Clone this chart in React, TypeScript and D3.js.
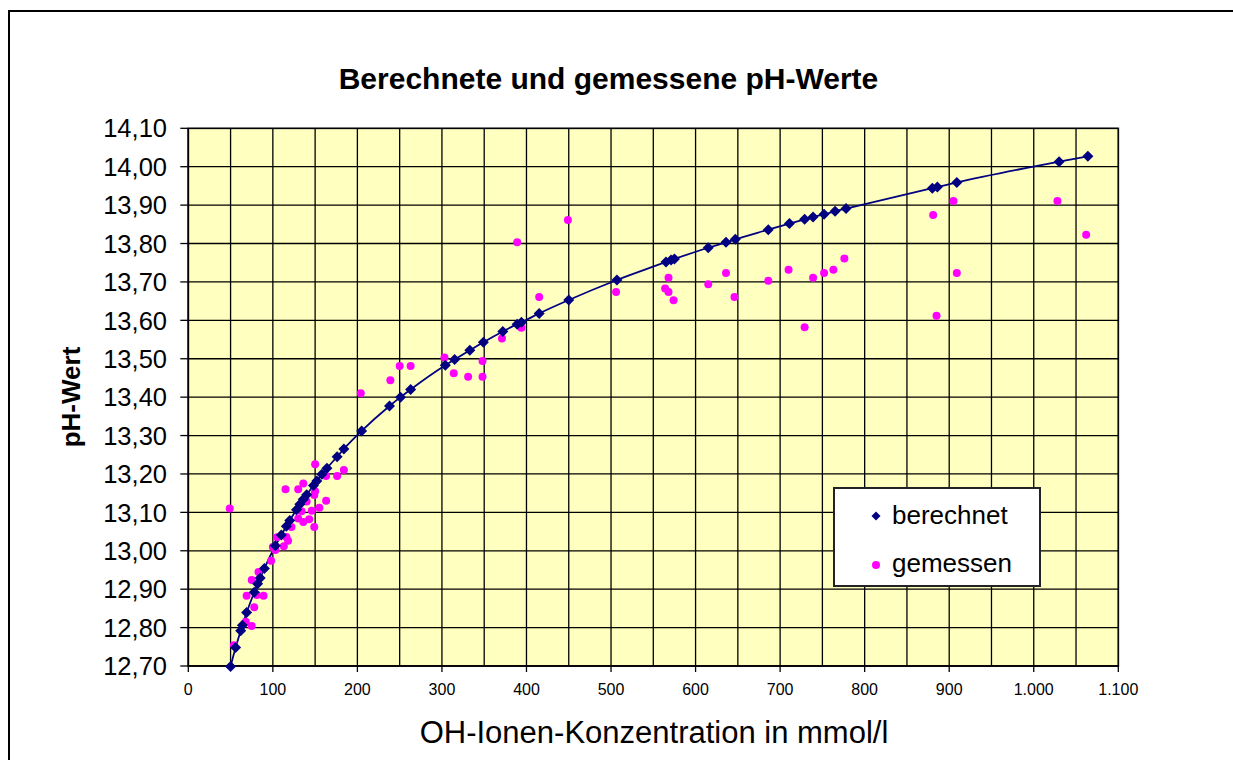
import React from "react";
import * as d3 from "d3";

// OH- concentration (mmol/l) and pH, calculated series
const calcConc = [50, 56, 62, 64, 69, 78, 82, 85, 90, 103, 110, 116, 120, 128, 132, 136, 140, 148, 152, 158, 164, 176, 184, 205, 238, 251, 263, 304, 315, 333, 349, 372, 389, 394, 415, 450, 507, 565, 571, 575, 615, 636, 647, 686, 711, 729, 739, 752, 765, 778, 880, 886, 909, 1030, 1064];
const calcPH = [12.699, 12.748, 12.792, 12.806, 12.839, 12.892, 12.914, 12.929, 12.954, 13.013, 13.041, 13.064, 13.079, 13.107, 13.121, 13.134, 13.146, 13.170, 13.182, 13.199, 13.215, 13.245, 13.265, 13.312, 13.377, 13.400, 13.420, 13.483, 13.498, 13.522, 13.543, 13.571, 13.590, 13.595, 13.618, 13.653, 13.705, 13.752, 13.757, 13.760, 13.789, 13.803, 13.811, 13.836, 13.852, 13.863, 13.869, 13.876, 13.884, 13.891, 13.944, 13.947, 13.959, 14.013, 14.027];

// measured series
const measConc = [49, 150, 184, 176, 163, 136, 115, 130, 150, 149, 163, 140, 155, 134, 146, 130, 136, 143, 149, 122, 105, 116, 118, 113, 100, 103, 98, 83, 75, 81, 89, 69, 78, 68, 75, 54,
  204, 239, 250, 263, 303, 314, 331, 348, 348, 371, 389, 394, 415, 449, 506,
  568, 564, 568, 574, 615, 636, 646, 686, 710, 729, 739, 752, 763, 776,
  905, 881, 1062, 1028, 909, 885];
const measPH = [13.11, 13.225, 13.21, 13.195, 13.195, 13.175, 13.16, 13.16, 13.155, 13.145, 13.13, 13.128, 13.112, 13.103, 13.104, 13.084, 13.075, 13.082, 13.062, 13.062, 13.035, 13.036, 13.026, 13.012, 13.01, 13.002, 12.974, 12.945, 12.924, 12.885, 12.883, 12.883, 12.853, 12.815, 12.804, 12.754,
  13.41, 13.444, 13.481, 13.481, 13.503, 13.462, 13.453, 13.494, 13.453, 13.553, 13.803, 13.581, 13.661, 13.861, 13.674,
  13.711, 13.683, 13.674, 13.652, 13.694, 13.723, 13.661, 13.703, 13.732, 13.582, 13.711, 13.723, 13.732, 13.761,
  13.911, 13.874, 13.823, 13.911, 13.723, 13.612];

const xTicks = [0, 100, 200, 300, 400, 500, 600, 700, 800, 900, 1000, 1100];
const xTickLabels = ["0", "100", "200", "300", "400", "500", "600", "700", "800", "900", "1.000", "1.100"];
const yTicks = [12.7, 12.8, 12.9, 13.0, 13.1, 13.2, 13.3, 13.4, 13.5, 13.6, 13.7, 13.8, 13.9, 14.0, 14.1];
const xGrid = d3.range(0, 1101, 50);

const title = "Berechnete und gemessene pH-Werte";
const xTitle = "OH-Ionen-Konzentration in mmol/l";
const yTitle = "pH-Wert";
const seriesNames = ["berechnet", "gemessen"];

const W = 1233, H = 760;
const L = 188.3, R = 1118.3, T = 128.3, B = 666;
const FONT = "'Liberation Sans', Arial, sans-serif";

export default function App() {
  const x = d3.scaleLinear().domain([0, 1100]).range([L, R]);
  const y = d3.scaleLinear().domain([12.7, 14.1]).range([B, T]);
  const calc = calcConc.map((c, i) => [c, calcPH[i]] as [number, number]);
  const meas = measConc.map((c, i) => [c, measPH[i]] as [number, number]);
  const line = d3.line<[number, number]>().x(d => x(d[0])).y(d => y(d[1])).curve(d3.curveMonotoneX);
  const diamond = (cx: number, cy: number, r: number) => `M${cx},${cy - r}L${cx + r},${cy}L${cx},${cy + r}L${cx - r},${cy}Z`;

  return (
    <svg width={W} height={H} style={{ position: "absolute", left: 0, top: 0, display: "block", background: "#fff" }} fontFamily={FONT}>
      {/* outer frame */}
      <path d={`M9,${H + 5}V11H${W + 5}`} fill="none" stroke="#000" strokeWidth={2} />
      <text x={608.5} y={89} textAnchor="middle" fontSize={30} fontWeight="bold">{title}</text>
      {/* plot area */}
      <rect x={L} y={T} width={R - L} height={B - T} fill="#FFFFC0" stroke="#808080" strokeWidth={2} />
      {xGrid.map(v => (
        <line key={"gx" + v} x1={x(v)} x2={x(v)} y1={T} y2={B} stroke="#000" strokeWidth={1.3} />
      ))}
      {yTicks.map(v => (
        <line key={"gy" + v} x1={L} x2={R} y1={y(v)} y2={y(v)} stroke="#000" strokeWidth={1.3} />
      ))}
      {/* axes */}
      <line x1={L} x2={L} y1={T} y2={B} stroke="#000" strokeWidth={1.5} />
      <line x1={L} x2={R} y1={B} y2={B} stroke="#000" strokeWidth={1.5} />
      {yTicks.map(v => (
        <g key={"yt" + v}>
          <line x1={L - 8} x2={L} y1={y(v)} y2={y(v)} stroke="#000" strokeWidth={1.3} />
          <text x={167} y={y(v)} dy="0.36em" textAnchor="end" fontSize={25.5}>{v.toFixed(2).replace(".", ",")}</text>
        </g>
      ))}
      {xTicks.map((v, i) => (
        <g key={"xt" + v}>
          <line x1={x(v)} x2={x(v)} y1={B} y2={B + 6} stroke="#000" strokeWidth={1.3} />
          <text x={x(v)} y={695} textAnchor="middle" fontSize={16}>{xTickLabels[i]}</text>
        </g>
      ))}
      <text x={654} y={743} textAnchor="middle" fontSize={31}>{xTitle}</text>
      <text transform={`translate(80,397) rotate(-90)`} textAnchor="middle" fontSize={26} fontWeight="bold">{yTitle}</text>
      {/* series */}
      <path d={line(calc) || ""} fill="none" stroke="#000080" strokeWidth={1.8} />
      {meas.map((d, i) => (
        <circle key={"m" + i} cx={x(d[0])} cy={y(d[1])} r={4} fill="#FF00FF" />
      ))}
      {calc.map((d, i) => (
        <path key={"c" + i} d={diamond(x(d[0]), y(d[1]), 5.5)} fill="#000080" />
      ))}
      {/* legend */}
      <rect x={834} y={488} width={206} height={98} fill="#fff" stroke="#222" strokeWidth={2} />
      <path d={diamond(876, 516, 4.5)} fill="#000080" />
      <text x={892} y={524} fontSize={26}>{seriesNames[0]}</text>
      <circle cx={876} cy={565} r={4} fill="#FF00FF" />
      <text x={892} y={572} fontSize={26}>{seriesNames[1]}</text>
    </svg>
  );
}
